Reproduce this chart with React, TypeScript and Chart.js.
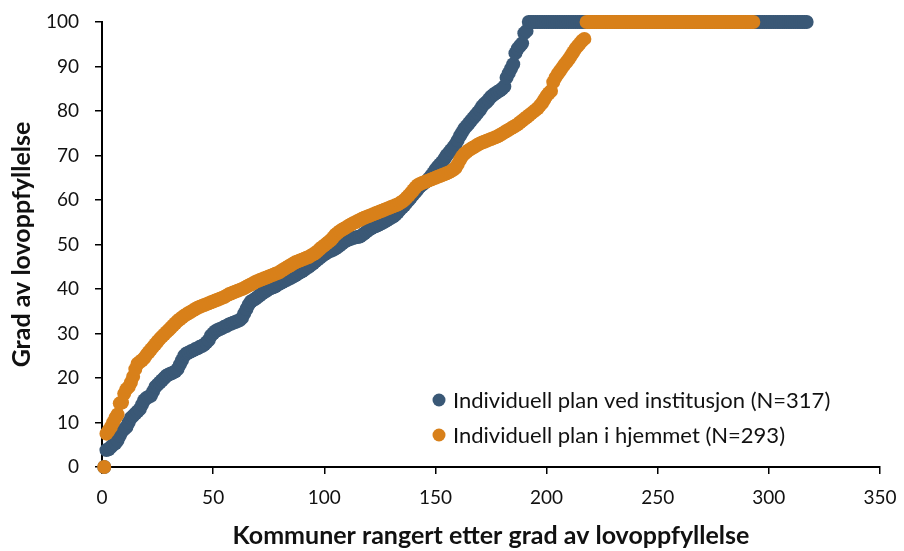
import { useEffect, useRef } from "react";
import { Chart, registerables } from "chart.js";

Chart.register(...registerables);

// Ranked values (y) for each series; x = rank (1..N)
const institusjonValues = [
  0, 3.8, 4, 4.5, 5, 5.3, 6, 7, 8, 8.5,
  9, 10, 11, 11.5, 12, 12.5, 13, 14, 15, 15.5,
  15.8, 16, 17, 18, 18.5, 19, 19.5, 20, 20.5, 20.8,
  21, 21.2, 21.5, 22, 23, 24, 25, 25.5, 25.7, 26,
  26.2, 26.5, 26.7, 27, 27.2, 27.5, 28, 28.5, 29.5, 30,
  30.5, 30.8, 31, 31.2, 31.5, 31.7, 32, 32.2, 32.4, 32.6,
  32.8, 33, 33.5, 34.5, 35.5, 36.5, 37.2, 37.5, 37.8, 38.2,
  38.6, 39, 39.3, 39.6, 40, 40.2, 40.4, 40.6, 41, 41.2,
  41.5, 41.8, 42, 42.3, 42.5, 42.8, 43.1, 43.4, 43.7, 44,
  44.3, 44.7, 45, 45.4, 45.8, 46.2, 46.6, 47, 47.4, 47.8,
  48.1, 48.4, 48.6, 48.8, 49.1, 49.4, 49.8, 50.2, 50.6, 50.9,
  51.1, 51.3, 51.5, 51.6, 51.7, 51.8, 52.1, 52.5, 52.9, 53.3,
  53.6, 53.9, 54.1, 54.3, 54.6, 54.8, 55.1, 55.4, 55.7, 56,
  56.3, 56.7, 57.2, 57.8, 58.3, 58.8, 59.4, 60, 60.6, 61.2,
  61.8, 62.4, 63, 63.4, 63.8, 64.2, 64.8, 65.4, 66, 66.8,
  67.4, 68, 68.5, 69.2, 70, 70.6, 71.2, 71.8, 72.5, 73.4,
  74.4, 75.2, 76, 76.6, 77.2, 77.8, 78.4, 79, 79.6, 80.2,
  81, 81.6, 82, 82.6, 83.2, 83.6, 84, 84.3, 84.6, 85,
  85.5, 87.5, 88.5, 89.5, 90.5, 93, 94, 94.6, 95.2, 97.5,
  98, 100, 100, 100, 100, 100, 100, 100, 100, 100,
  100, 100, 100, 100, 100, 100, 100, 100, 100, 100,
  100, 100, 100, 100, 100, 100, 100, 100, 100, 100,
  100, 100, 100, 100, 100, 100, 100, 100, 100, 100,
  100, 100, 100, 100, 100, 100, 100, 100, 100, 100,
  100, 100, 100, 100, 100, 100, 100, 100, 100, 100,
  100, 100, 100, 100, 100, 100, 100, 100, 100, 100,
  100, 100, 100, 100, 100, 100, 100, 100, 100, 100,
  100, 100, 100, 100, 100, 100, 100, 100, 100, 100,
  100, 100, 100, 100, 100, 100, 100, 100, 100, 100,
  100, 100, 100, 100, 100, 100, 100, 100, 100, 100,
  100, 100, 100, 100, 100, 100, 100, 100, 100, 100,
  100, 100, 100, 100, 100, 100, 100,
];

const hjemmetValues = [
  0, 7.5, 8.2, 9, 10, 11, 11.8, 14.3, 14.5, 16.5,
  17.5, 18, 19, 20.3, 22, 23.2, 23.6, 24, 24.5, 25.2,
  25.8, 26.4, 27, 27.6, 28.2, 28.8, 29.3, 29.8, 30.3, 30.8,
  31.3, 31.8, 32.3, 32.8, 33.2, 33.6, 34, 34.3, 34.6, 34.9,
  35.2, 35.5, 35.8, 36, 36.2, 36.4, 36.6, 36.8, 37, 37.2,
  37.4, 37.6, 37.8, 38, 38.2, 38.5, 38.8, 39, 39.2, 39.4,
  39.6, 39.8, 40, 40.2, 40.5, 40.8, 41, 41.3, 41.6, 41.8,
  42, 42.2, 42.4, 42.6, 42.8, 43, 43.2, 43.4, 43.6, 43.8,
  44.2, 44.5, 44.8, 45.1, 45.4, 45.7, 46, 46.2, 46.4, 46.6,
  46.8, 47, 47.2, 47.5, 47.8, 48.1, 48.5, 49, 49.4, 49.8,
  50.2, 50.6, 51, 51.6, 52.2, 52.6, 53, 53.3, 53.6, 53.9,
  54.2, 54.5, 54.8, 55, 55.3, 55.5, 55.8, 56, 56.2, 56.4,
  56.6, 56.8, 57, 57.2, 57.4, 57.6, 57.8, 58, 58.2, 58.4,
  58.6, 58.8, 59, 59.3, 59.6, 60, 60.5, 61, 61.6, 62.2,
  62.8, 63.3, 63.6, 63.8, 64, 64.2, 64.4, 64.6, 64.8, 65,
  65.2, 65.4, 65.6, 65.8, 66, 66.2, 66.5, 66.8, 67.2, 68,
  69, 69.8, 70.4, 70.8, 71.2, 71.5, 71.8, 72.1, 72.4, 72.7,
  72.9, 73.1, 73.3, 73.5, 73.7, 73.9, 74.1, 74.3, 74.6, 74.9,
  75.2, 75.5, 75.8, 76.1, 76.4, 76.7, 77, 77.4, 77.8, 78.2,
  78.6, 79, 79.4, 79.8, 80.2, 80.6, 81.2, 81.8, 82.6, 83.4,
  84, 84.5, 86.5, 87.5, 88.3, 89, 89.7, 90.4, 91, 91.7,
  92.4, 93.2, 94, 94.6, 95.2, 95.8, 96.2, 100, 100, 100,
  100, 100, 100, 100, 100, 100, 100, 100, 100, 100,
  100, 100, 100, 100, 100, 100, 100, 100, 100, 100,
  100, 100, 100, 100, 100, 100, 100, 100, 100, 100,
  100, 100, 100, 100, 100, 100, 100, 100, 100, 100,
  100, 100, 100, 100, 100, 100, 100, 100, 100, 100,
  100, 100, 100, 100, 100, 100, 100, 100, 100, 100,
  100, 100, 100, 100, 100, 100, 100, 100, 100, 100,
  100, 100, 100,
];

const seriesLabels = [
  "Individuell plan ved institusjon (N=317)",
  "Individuell plan i hjemmet (N=293)",
];
const xTickValues = [0, 50, 100, 150, 200, 250, 300, 350];
const yTickValues = [0, 10, 20, 30, 40, 50, 60, 70, 80, 90, 100];
const xTitle = "Kommuner rangert etter grad av lovoppfyllelse";
const yTitle = "Grad av lovoppfyllelse";

const BLUE = "#3A5876";
const ORANGE = "#D8801A";
const TEXT = "#111111";
const FONT = "Lato";

const insideLegend = {
  id: "insideLegend",
  afterDraw(chart: any) {
    const { ctx, chartArea } = chart;
    const datasets = chart.data.datasets;
    const x0 = chartArea.left + 337;
    const y0 = chartArea.top + 378;
    const rowGap = 35;
    ctx.save();
    ctx.font = `22px ${FONT}`;
    ctx.textBaseline = "middle";
    ctx.textAlign = "left";
    datasets.forEach((ds: any, i: number) => {
      const y = y0 + i * rowGap;
      ctx.beginPath();
      ctx.fillStyle = ds.backgroundColor;
      ctx.arc(x0, y, 6.5, 0, Math.PI * 2);
      ctx.fill();
      ctx.fillStyle = TEXT;
      ctx.fillText(ds.label, x0 + 14, y + 1);
    });
    ctx.restore();
  },
};

export default function App() {
  const canvasRef = useRef<HTMLCanvasElement | null>(null);

  useEffect(() => {
    const canvas = canvasRef.current;
    if (!canvas) return;
    const chart = new Chart(canvas, {
      type: "scatter",
      data: {
        datasets: [
          {
            label: seriesLabels[0],
            data: institusjonValues.map((y, i) => ({ x: i + 1, y })),
            backgroundColor: BLUE,
            borderColor: BLUE,
            borderWidth: 0,
            pointRadius: 7,
            clip: false,
            order: 1,
          },
          {
            label: seriesLabels[1],
            data: hjemmetValues.map((y, i) => ({ x: i + 1, y })),
            backgroundColor: ORANGE,
            borderColor: ORANGE,
            borderWidth: 0,
            pointRadius: 7,
            clip: false,
            order: 0,
          },
        ],
      },
      options: {
        responsive: false,
        animation: false,
        events: [],
        layout: { padding: { left: 0, right: 24, top: 22, bottom: 0 } },
        plugins: {
          legend: { display: false },
          tooltip: { enabled: false },
        },
        scales: {
          x: {
            type: "linear",
            min: 0,
            max: 350,
            afterFit: (scale: any) => {
              scale.height = 84;
              scale.paddingLeft = 0;
              scale.paddingRight = 0;
            },
            afterBuildTicks: (scale: any) => {
              scale.ticks = xTickValues.map((v) => ({ value: v }));
            },
            grid: {
              display: true,
              drawOnChartArea: false,
              drawTicks: true,
              tickLength: 7,
              color: "#000",
              lineWidth: 1.5,
            },
            border: { display: true, color: "#000", width: 2 },
            ticks: {
              color: TEXT,
              font: { family: FONT, size: 19 },
              padding: 12,
              maxRotation: 0,
            },
            title: {
              display: true,
              text: xTitle,
              color: TEXT,
              font: { family: FONT, size: 25, weight: "bold" },
              padding: { top: 0, bottom: 0 },
            },
          },
          y: {
            type: "linear",
            min: 0,
            max: 100,
            afterFit: (scale: any) => {
              scale.width = 102;
              scale.paddingTop = 0;
              scale.paddingBottom = 0;
            },
            afterBuildTicks: (scale: any) => {
              scale.ticks = yTickValues.map((v) => ({ value: v }));
            },
            grid: {
              display: true,
              drawOnChartArea: false,
              drawTicks: true,
              tickLength: 7,
              color: "#000",
              lineWidth: 1.5,
            },
            border: { display: true, color: "#000", width: 2 },
            ticks: {
              color: TEXT,
              font: { family: FONT, size: 19 },
              padding: 16,
            },
            title: {
              display: true,
              text: yTitle,
              color: TEXT,
              font: { family: FONT, size: 25, weight: "bold" },
              padding: { top: 6.5, bottom: 0 },
            },
          },
        },
      },
      plugins: [insideLegend],
    });
    return () => chart.destroy();
  }, []);

  return (
    <div
      style={{
        position: "fixed",
        left: 0,
        top: 0,
        width: 904,
        height: 551,
        background: "#fff",
      }}
    >
      <canvas ref={canvasRef} width={904} height={551} />
    </div>
  );
}
